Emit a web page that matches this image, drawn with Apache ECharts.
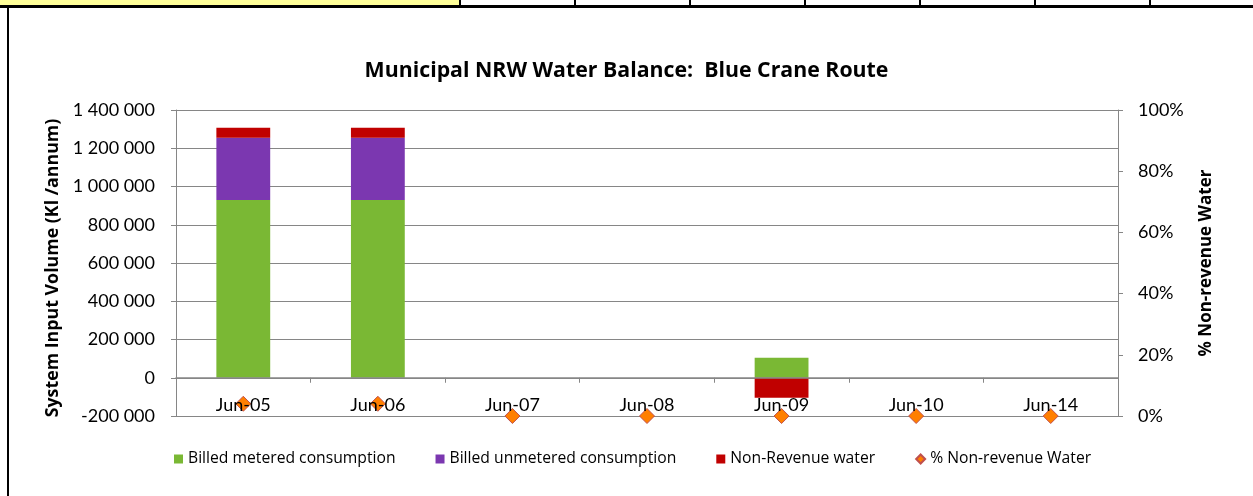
<!DOCTYPE html>
<html><head><meta charset="utf-8">
<script src="https://cdn.jsdelivr.net/npm/echarts@6/dist/echarts.min.js"></script>
<style>html,body{margin:0;padding:0;background:#fff}#c{width:1253px;height:496px}</style>
</head><body><div id="c"></div>
<script>
const categories = ['Jun-05','Jun-06','Jun-07','Jun-08','Jun-09','Jun-10','Jun-14'];
const billedMetered = [930000, 930000, 0, 0, 104000, 0, 0];
const billedUnmetered = [325000, 325000, 0, 0, 0, 0, 0];
const nonRevenue = [52000, 52000, 0, 0, -104000, 0, 0];
const pctNonRevenue = [0.04, 0.04, 0, 0, 0, 0, 0];
const leftTicks = {min: -200000, max: 1400000, interval: 200000};
const rightTicks = {min: 0, max: 1, interval: 0.2};

const FONT = 'Lato';
const FONT2 = 'Open Sans';
const chart = echarts.init(document.getElementById('c'), null, {renderer: 'canvas'});
const fmtNum = v => {
  const s = String(Math.abs(Math.round(v))).replace(/\B(?=(\d{3})+(?!\d))/g, ' ');
  return (v < 0 ? '-' : '') + s;
};

const cellXs = [460, 575, 690, 805, 920, 1035, 1150];
const graphics = [
  {type: 'rect', shape: {x: 0, y: 0, width: 460, height: 6}, style: {fill: '#FFFF99'}, silent: true},
  {type: 'line', shape: {x1: 0, y1: 6.5, x2: 1253, y2: 6.5}, style: {stroke: '#000', lineWidth: 3}, silent: true},
  {type: 'line', shape: {x1: 8, y1: 6, x2: 8, y2: 496}, style: {stroke: '#000', lineWidth: 2}, silent: true}
];
cellXs.forEach(x => graphics.push({type: 'line', shape: {x1: x, y1: 0, x2: x, y2: 6}, style: {stroke: '#000', lineWidth: 2}, silent: true}));

chart.setOption({
  animation: false,
  textStyle: {fontFamily: FONT, color: '#000'},
  title: {text: 'Municipal NRW Water Balance:  Blue Crane Route', left: 'center', top: 55,
    textStyle: {fontFamily: FONT2, fontWeight: 'bold', fontSize: 21.3, color: '#000'}},
  graphic: graphics,
  legend: {
    bottom: 24, left: 169, itemGap: 40, itemWidth: 9, itemHeight: 9,
    textStyle: {fontFamily: FONT2, fontSize: 15.7, color: '#000'},
    data: [
      {name: 'Billed metered consumption', icon: 'rect'},
      {name: 'Billed unmetered consumption', icon: 'rect'},
      {name: 'Non-Revenue water', icon: 'rect'},
      {name: '% Non-revenue Water', icon: 'diamond'}
    ]
  },
  grid: {left: 176, right: 135, top: 110, bottom: 80},
  xAxis: {
    type: 'category', data: categories, z: 4,
    axisLine: {onZero: true, onZeroAxisIndex: 0, lineStyle: {color: '#868686', width: 1.5}},
    axisTick: {show: true, length: 5, lineStyle: {color: '#868686'}},
    axisLabel: {margin: -20, fontSize: 18, color: '#000', fontFamily: FONT}
  },
  yAxis: [
    {type: 'value', min: leftTicks.min, max: leftTicks.max, interval: leftTicks.interval,
     name: 'System Input Volume (Kl /annum)', nameLocation: 'middle', nameGap: 114, nameRotate: 90,
     nameTextStyle: {fontFamily: FONT2, fontWeight: 'bold', fontSize: 17.8, color: '#000', padding: [0, 10, 0, 0]},
     axisLine: {show: true, lineStyle: {color: '#868686'}},
     axisTick: {show: true, length: 5, lineStyle: {color: '#868686'}},
     axisLabel: {fontSize: 18, color: '#000', margin: 21, formatter: fmtNum},
     splitLine: {lineStyle: {color: '#868686', width: 1}}},
    {type: 'value', min: rightTicks.min, max: rightTicks.max, interval: rightTicks.interval, position: 'right',
     name: '% Non-revenue Water', nameLocation: 'middle', nameGap: 80, nameRotate: 90,
     nameTextStyle: {fontFamily: FONT2, fontWeight: 'bold', fontSize: 17, color: '#000'},
     axisLine: {show: true, lineStyle: {color: '#868686'}},
     axisTick: {show: true, length: 5, lineStyle: {color: '#868686'}},
     axisLabel: {fontSize: 18, color: '#000', margin: 20, formatter: v => Math.round(v * 100) + '%'},
     splitLine: {show: false}}
  ],
  series: [
    {name: 'Billed metered consumption', type: 'bar', stack: 'a', data: billedMetered, barWidth: '40%',
     itemStyle: {color: '#7AB834'}},
    {name: 'Billed unmetered consumption', type: 'bar', stack: 'a', data: billedUnmetered, barWidth: '40%',
     itemStyle: {color: '#7B37B0'}},
    {name: 'Non-Revenue water', type: 'bar', stack: 'a', data: nonRevenue, barWidth: '40%',
     itemStyle: {color: '#C00000'}},
    {name: '% Non-revenue Water', type: 'line', yAxisIndex: 1, data: pctNonRevenue,
     lineStyle: {width: 0, opacity: 0}, symbol: 'diamond', symbolSize: 15, z: 1,
     itemStyle: {color: '#FF7F00', borderColor: '#C0504D', borderWidth: 1}}
  ]
});
</script></body></html>
